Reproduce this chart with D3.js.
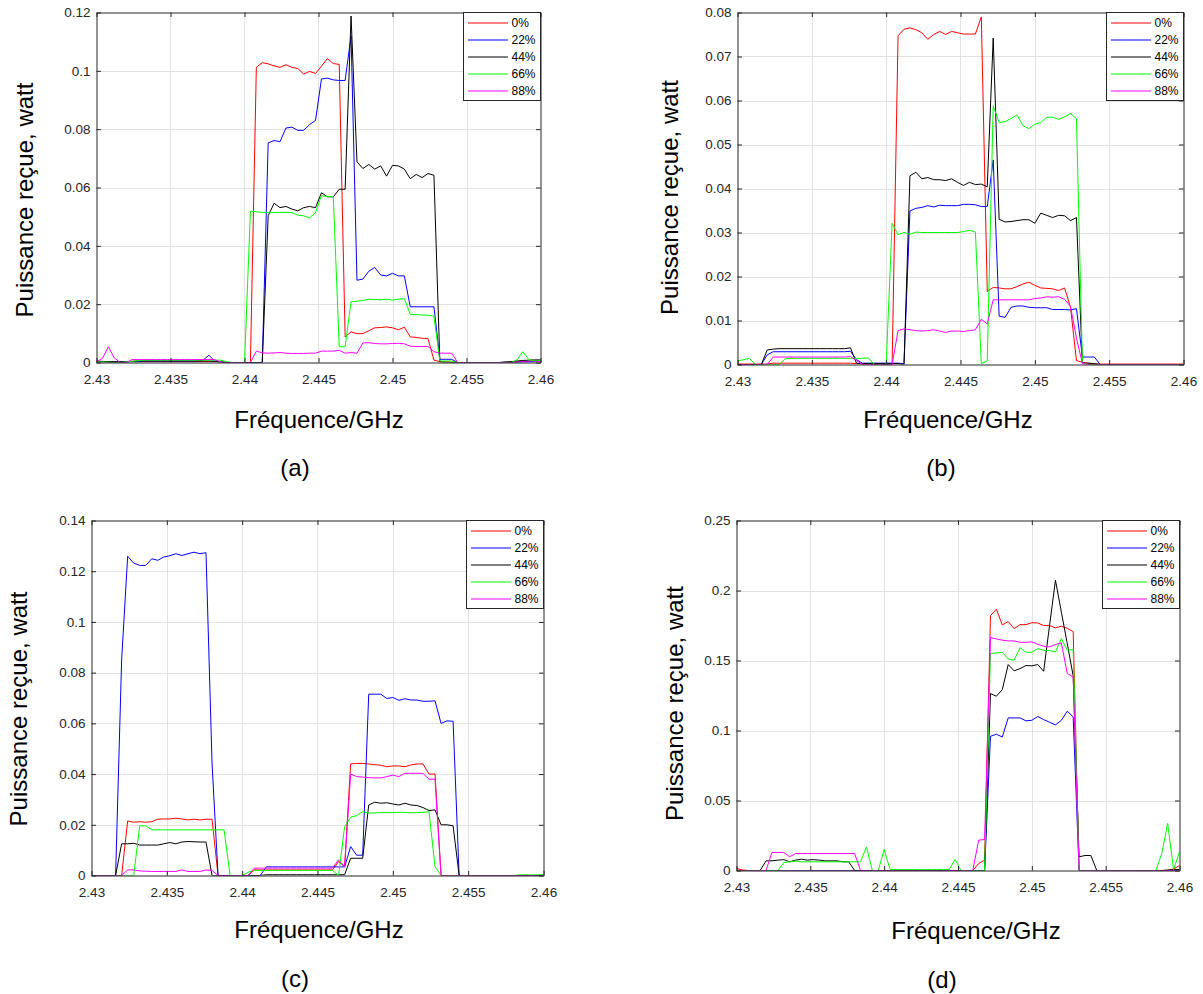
<!DOCTYPE html>
<html><head><meta charset="utf-8">
<script src="https://cdn.jsdelivr.net/npm/d3@7"></script>
<style>
body{margin:0;background:#fff;}
svg{display:block;font-family:"Liberation Sans",Arial,Helvetica,sans-serif;}
</style>
</head><body>
<svg id="c" width="1203" height="994"></svg>
<script>
// ---------- DATA ----------
const freq = [2.4300,2.4304,2.4308,2.4312,2.4316,2.4320,2.4324,2.4328,2.4332,2.4336,
2.4340,2.4344,2.4348,2.4352,2.4356,2.4360,2.4364,2.4368,2.4372,2.4376,
2.4380,2.4384,2.4388,2.4392,2.4396,2.4400,2.4404,2.4408,2.4412,2.4416,
2.4420,2.4424,2.4428,2.4432,2.4436,2.4440,2.4444,2.4448,2.4452,2.4456,
2.4460,2.4464,2.4468,2.4472,2.4476,2.4480,2.4484,2.4488,2.4492,2.4496,
2.4500,2.4504,2.4508,2.4512,2.4516,2.4520,2.4524,2.4528,2.4532,2.4536,
2.4540,2.4544,2.4548,2.4552,2.4556,2.4560,2.4564,2.4568,2.4572,2.4576,
2.4580,2.4584,2.4588,2.4592,2.4596,2.4600];

const seriesNames = ["0%","22%","44%","66%","88%"];
const seriesColors = ["#ff0000","#0000ff","#000000","#00ff00","#ff00ff"];

const xTicks = [2.43,2.435,2.44,2.445,2.45,2.455,2.46];
const xTickLabels = ["2.43","2.435","2.44","2.445","2.45","2.455","2.46"];

// panel (a)
const aRed = [0.0005,0.0004,0.0002,0,0,0.0002,0.0003,0.0003,0.0003,0.0003,
0.0003,0.0003,0.0003,0.0003,0.0003,0.0003,0.0003,0.0003,0.0003,0.0003,
0.0003,0.0002,0,0,0,0,0,0.1012,0.1028,0.1024,
0.1017,0.1012,0.1021,0.1012,0.1008,0.0989,0.0998,0.0991,0.1016,0.1042,
0.1025,0.1022,0.0088,0.0105,0.0099,0.0099,0.0109,0.0119,0.0120,0.0122,
0.0119,0.0112,0.0121,0.0088,0.0086,0.0083,0.0082,0.0008,0.0003,0.0002,
0.0001,0,0,0,0,0,0,0,0,0,
0.0001,0.0002,0.0004,0.0003,0.0005,0.0006];
const aBlue = [0.0003,0.0002,0.0002,0.0002,0.0002,0.0002,0.0002,0.0003,0.0005,0.0005,
0.0005,0.0005,0.0005,0.0005,0.0005,0.0005,0.0005,0.0005,0.0008,0.0025,
0.0004,0.0002,0,0,0,0,0,0,0,0.0753,
0.0761,0.0757,0.0804,0.0807,0.0796,0.0796,0.0816,0.0830,0.0972,0.0975,
0.0969,0.0967,0.0967,0.1120,0.0282,0.0286,0.0313,0.0326,0.0300,0.0297,
0.0306,0.0297,0.0297,0.0191,0.0191,0.0191,0.0191,0.0191,0.0011,0.0011,
0.0011,0,0,0,0,0,0,0,0,0,
0,0.0001,0.0002,0.0003,0.0004,0.0005];
const aBlack = [0.0002,0.0003,0.0003,0.0003,0.0003,0.0003,0.0004,0.0005,0.0005,0.0005,
0.0005,0.0005,0.0005,0.0005,0.0005,0.0005,0.0005,0.0005,0.0005,0.0005,
0.0004,0.0002,0,0,0,0,0,0,0,0.0503,
0.0546,0.0531,0.0535,0.0526,0.0520,0.0531,0.0535,0.0531,0.0582,0.0568,
0.0568,0.0594,0.0594,0.1188,0.0688,0.0665,0.0679,0.0663,0.0674,0.0639,
0.0676,0.0674,0.0663,0.0630,0.0645,0.0634,0.0648,0.0642,0.0002,0.0001,
0,0,0,0,0,0,0,0,0,0.0002,
0.0003,0.0005,0.0007,0.0008,0.0009,0.0009];
const aGreen = [0.0002,0.0002,0.0001,0,0,0.0002,0.0004,0.0006,0.0008,0.0008,
0.0008,0.0008,0.0008,0.0008,0.0008,0.0008,0.0008,0.0008,0.0008,0.0008,
0.0008,0.0008,0.0003,0,0,0,0.0519,0.0517,0.0514,0.0514,
0.0514,0.0514,0.0515,0.0514,0.0505,0.0503,0.0496,0.0514,0.0572,0.0569,
0.0569,0.0054,0.0054,0.0208,0.0210,0.0213,0.0217,0.0216,0.0215,0.0217,
0.0214,0.0217,0.0219,0.0165,0.0164,0.0163,0.0162,0.0159,0.0005,0.0005,
0.0005,0,0,0,0,0,0,0,0,0,
0,0.0008,0.0037,0.0011,0.0005,0.0007];
const aMagenta = [0.0002,0.0014,0.0054,0.0016,0,0,0.0010,0.0010,0.0010,0.0010,
0.0010,0.0010,0.0010,0.0010,0.0010,0.0010,0.0010,0.0010,0.0010,0.0010,
0.0010,0.0001,0,0,0,0,0,0.0039,0.0033,0.0032,
0.0033,0.0034,0.0032,0.0031,0.0031,0.0031,0.0032,0.0032,0.0039,0.0039,
0.0039,0.0042,0.0032,0.0034,0.0032,0.0067,0.0068,0.0065,0.0064,0.0064,
0.0065,0.0066,0.0064,0.0056,0.0055,0.0055,0.0055,0.0037,0.0032,0.0032,
0.0032,0,0,0,0,0,0,0,0,0,
0,0.0001,0.0002,0.0002,0.0002,0.0003];

// panel (b)
const bRed = [0.0001,0.0001,0.0001,0.0001,0.0001,0.0001,0.0003,0.0003,0.0003,0.0003,
0.0003,0.0003,0.0003,0.0003,0.0003,0.0003,0.0003,0.0003,0.0003,0.0003,
0.0002,0.0001,0.0001,0.0001,0.0001,0.0001,0,0.0747,0.0762,0.0765,
0.0761,0.0754,0.0739,0.0750,0.0757,0.0750,0.0757,0.0754,0.0751,0.0751,
0.0751,0.0790,0.0166,0.0175,0.0174,0.0172,0.0172,0.0177,0.0183,0.0187,
0.0180,0.0174,0.0173,0.0172,0.0168,0.0174,0.0130,0.0009,0.0005,0.0003,
0.0001,0.0001,0.0001,0.0001,0.0001,0.0001,0.0001,0.0001,0.0001,0.0001,
0.0001,0.0001,0.0001,0.0001,0.0001,0.0001];
const bBlue = [0,0,0,0,0,0.0022,0.0029,0.0029,0.0029,0.0029,
0.0029,0.0029,0.0029,0.0029,0.0029,0.0029,0.0029,0.0029,0.0029,0.0030,
0.0011,0.0003,0.0003,0.0003,0.0003,0.0003,0.0003,0.0003,0.0002,0.0349,
0.0355,0.0357,0.0361,0.0358,0.0362,0.0361,0.0361,0.0361,0.0364,0.0364,
0.0363,0.0359,0.0359,0.0465,0.0110,0.0107,0.0130,0.0133,0.0133,0.0130,
0.0129,0.0129,0.0129,0.0125,0.0125,0.0125,0.0124,0.0127,0.0017,0.0017,
0.0017,0,0,0,0,0,0,0,0,0,
0,0,0,0,0,0];
const bBlack = [0,0,0,0,0,0.0033,0.0035,0.0036,0.0036,0.0036,
0.0036,0.0036,0.0036,0.0036,0.0036,0.0036,0.0036,0.0036,0.0036,0.0038,
0.0003,0.0002,0.0002,0.0002,0.0002,0.0002,0.0002,0.0002,0,0.0429,
0.0437,0.0422,0.0425,0.0420,0.0420,0.0418,0.0422,0.0414,0.0407,0.0414,
0.0409,0.0410,0.0404,0.0742,0.0330,0.0324,0.0325,0.0327,0.0329,0.0329,
0.0321,0.0344,0.0339,0.0334,0.0339,0.0338,0.0327,0.0334,0.0003,0.0003,
0.0002,0,0,0,0,0,0,0,0,0,
0,0,0,0,0,0];
const bGreen = [0.0008,0.0011,0.0014,0,0,0,0,0,0.0013,0.0014,
0.0014,0.0014,0.0014,0.0014,0.0014,0.0014,0.0014,0.0014,0.0014,0.0014,
0.0014,0.0014,0.0015,0,0,0,0.0321,0.0295,0.0300,0.0296,
0.0301,0.0300,0.0300,0.0300,0.0300,0.0300,0.0300,0.0300,0.0302,0.0305,
0.0301,0.0002,0.0008,0.0588,0.0550,0.0552,0.0559,0.0567,0.0543,0.0536,
0.0546,0.0550,0.0562,0.0562,0.0557,0.0563,0.0570,0.0559,0.0003,0,
0,0,0,0,0,0,0,0,0,0,
0,0,0,0,0,0];
const bMagenta = [0,0,0,0,0,0,0.0017,0.0017,0.0017,0.0017,
0.0017,0.0017,0.0017,0.0017,0.0017,0.0017,0.0017,0.0017,0.0017,0.0018,
0.0009,0,0,0,0,0,0,0.0077,0.0081,0.0079,
0.0077,0.0076,0.0077,0.0079,0.0076,0.0073,0.0076,0.0076,0.0075,0.0077,
0.0079,0.0103,0.0092,0.0147,0.0147,0.0147,0.0147,0.0147,0.0147,0.0147,
0.0150,0.0151,0.0154,0.0153,0.0154,0.0148,0.0132,0.0060,0.0002,0,
0,0,0,0,0,0,0,0,0,0,
0,0,0,0,0,0];

// panel (c)
const cRed = [0,0,0,0,0,0,0.0215,0.0210,0.0212,0.0210,
0.0212,0.0222,0.0223,0.0223,0.0226,0.0223,0.0219,0.0222,0.0219,0.0222,
0.0222,0,0,0,0,0,0,0.0022,0.0022,0.0022,
0.0022,0.0022,0.0022,0.0022,0.0022,0.0022,0.0022,0.0022,0.0022,0.0022,
0.0022,0.0055,0.0035,0.0440,0.0442,0.0442,0.0440,0.0437,0.0435,0.0429,
0.0432,0.0432,0.0429,0.0436,0.0440,0.0440,0.0400,0.0400,0,0,
0,0,0,0,0,0,0,0,0,0,
0,0,0,0,0,0];
const cBlue = [0,0,0,0,0,0.0850,0.1259,0.1232,0.1223,0.1223,
0.1249,0.1243,0.1256,0.1261,0.1269,0.1262,0.1269,0.1275,0.1269,0.1273,
0.0443,0,0,0,0,0,0,0,0,0.0034,
0.0034,0.0034,0.0034,0.0034,0.0034,0.0034,0.0034,0.0034,0.0034,0.0034,
0.0034,0.0034,0.0034,0.0114,0.0080,0.0080,0.0715,0.0715,0.0715,0.0698,
0.0702,0.0691,0.0697,0.0692,0.0692,0.0687,0.0687,0.0689,0.0600,0.0610,
0.0608,0,0,0,0,0,0,0,0,0,
0,0,0,0,0,0];
const cBlack = [0,0,0,0,0,0.0125,0.0125,0.0127,0.0120,0.0120,
0.0120,0.0120,0.0125,0.0130,0.0125,0.0132,0.0134,0.0133,0.0132,0.0132,
0,0,0,0,0,0,0,0,0,0.0003,
0.0003,0.0003,0.0003,0.0003,0.0003,0.0003,0.0003,0.0003,0.0003,0.0003,
0.0003,0.0003,0.0003,0.0068,0.0068,0.0068,0.0278,0.0289,0.0285,0.0287,
0.0282,0.0278,0.0285,0.0278,0.0276,0.0268,0.0256,0.0259,0.0200,0.0200,
0.0196,0,0,0,0,0,0,0,0,0,
0,0,0,0,0,0];
const cGreen = [0,0,0,0,0,0,0,0,0.0196,0.0196,
0.0180,0.0180,0.0180,0.0180,0.0180,0.0180,0.0180,0.0180,0.0180,0.0180,
0.0180,0.0180,0.0180,0,0,0,0.0013,0.0020,0.0020,0.0020,
0.0020,0.0020,0.0020,0.0020,0.0020,0.0020,0.0020,0.0020,0.0020,0.0020,
0.0020,0,0.0193,0.0230,0.0236,0.0252,0.0246,0.0247,0.0248,0.0248,
0.0248,0.0249,0.0249,0.0247,0.0248,0.0249,0.0252,0.0035,0,0,
0,0,0,0,0,0,0,0,0,0,
0,0.0002,0.0003,0.0002,0.0003,0.0004];
const cMagenta = [0,0,0,0,0,0,0.0022,0.0022,0.0018,0.0017,
0.0016,0.0016,0.0016,0.0016,0.0016,0.0022,0.0016,0.0016,0.0016,0.0022,
0.0020,0,0,0,0,0,0,0.0029,0.0029,0.0029,
0.0029,0.0029,0.0029,0.0029,0.0029,0.0029,0.0029,0.0029,0.0029,0.0029,
0.0029,0.0062,0.0033,0.0400,0.0390,0.0388,0.0386,0.0385,0.0385,0.0390,
0.0396,0.0390,0.0403,0.0403,0.0403,0.0403,0.0380,0.0380,0,0,
0,0,0,0,0,0,0,0,0,0,
0,0,0,0,0,0];

// panel (d)
const dRed = [0.0014,0.0004,0,0,0,0,0,0,0,0,
0,0,0,0,0,0,0,0,0,0,
0,0,0,0,0,0,0,0,0,0,
0,0,0,0,0,0,0,0,0,0,
0,0.0050,0.0074,0.1820,0.1866,0.1754,0.1778,0.1728,0.1756,0.1756,
0.1770,0.1768,0.1750,0.1750,0.1733,0.1745,0.1730,0.1706,0,0,
0,0,0,0,0,0,0,0,0,0,
0,0,0,0.0002,0.0010,0.0036];
const dBlue = [0,0,0,0,0,0,0,0,0,0,
0,0,0,0,0,0,0,0,0,0,
0,0,0,0,0,0,0,0,0,0,
0,0,0,0,0,0,0,0,0,0,
0,0,0,0.0959,0.0973,0.0954,0.1090,0.1090,0.1090,0.1069,
0.1073,0.1100,0.1078,0.1059,0.1040,0.1073,0.1138,0.1097,0,0,
0,0,0,0,0,0,0,0,0,0,
0,0,0,0,0,0];
const dBlack = [0,0,0,0,0,0.0069,0.0069,0.0074,0.0078,0.0062,
0.0074,0.0081,0.0074,0.0078,0.0074,0.0069,0.0069,0.0069,0.0062,0.0062,
0,0,0,0,0,0,0,0,0,0,
0,0,0,0,0,0,0,0,0,0,
0,0,0,0.1264,0.1245,0.1292,0.1471,0.1426,0.1442,0.1464,
0.1462,0.1471,0.1423,0.1750,0.2073,0.1845,0.1620,0.1390,0.0098,0.0107,
0.0107,0,0,0,0,0,0,0,0,0,
0,0,0,0.0003,0.0006,0.0007];
const dGreen = [0,0,0,0,0,0,0,0,0.0057,0.0062,
0.0067,0.0062,0.0062,0.0062,0.0062,0.0062,0.0062,0.0062,0.0062,0.0062,
0.0062,0.0062,0.0169,0,0,0.0150,0.0007,0.0007,0.0007,0.0007,
0.0007,0.0007,0.0007,0.0007,0.0007,0.0007,0.0007,0.0079,0,0,
0,0,0,0.1550,0.1554,0.1559,0.1511,0.1502,0.1592,0.1559,
0.1559,0.1585,0.1573,0.1571,0.1561,0.1656,0.1573,0.1578,0,0,
0,0,0,0,0,0,0,0,0,0,
0,0,0.0121,0.0336,0.0007,0.0133];
const dMagenta = [0,0,0,0,0,0,0.0129,0.0129,0.0129,0.0098,
0.0121,0.0121,0.0121,0.0121,0.0121,0.0121,0.0121,0.0121,0.0121,0.0121,
0.0121,0,0,0,0,0,0,0,0,0,
0,0,0,0,0,0,0,0,0,0,
0,0.0217,0.0221,0.1664,0.1654,0.1645,0.1640,0.1640,0.1630,0.1630,
0.1633,0.1616,0.1602,0.1597,0.1614,0.1626,0.1407,0.1383,0,0,
0,0,0,0,0,0,0,0,0,0,
0,0,0,0,0,0];

const aYTicks = [0,0.02,0.04,0.06,0.08,0.1,0.12];
const aYLabels = ["0","0.02","0.04","0.06","0.08","0.1","0.12"];
const bYTicks = [0,0.01,0.02,0.03,0.04,0.05,0.06,0.07,0.08];
const bYLabels = ["0","0.01","0.02","0.03","0.04","0.05","0.06","0.07","0.08"];
const cYTicks = [0,0.02,0.04,0.06,0.08,0.1,0.12,0.14];
const cYLabels = ["0","0.02","0.04","0.06","0.08","0.1","0.12","0.14"];
const dYTicks = [0,0.05,0.1,0.15,0.2,0.25];
const dYLabels = ["0","0.05","0.1","0.15","0.2","0.25"];

const xTitle = "Fréquence/GHz";
const yTitle = "Puissance reçue, watt";
const captions = ["(a)","(b)","(c)","(d)"];

// ---------- LAYOUT ----------
const panels = [
  {series:[aRed,aBlue,aBlack,aGreen,aMagenta], yTicks:aYTicks, yLabels:aYLabels, cap:captions[0],
   x0:96.5, x1:540.5, y0:12.5, y1:362.5, yl:[33,200], xl:[319,428], cl:[295,476]},
  {series:[bRed,bBlue,bBlack,bGreen,bMagenta], yTicks:bYTicks, yLabels:bYLabels, cap:captions[1],
   x0:737.5, x1:1183.5, y0:12.5, y1:364.5, yl:[678,197.5], xl:[948,428], cl:[941,476]},
  {series:[cRed,cBlue,cBlack,cGreen,cMagenta], yTicks:cYTicks, yLabels:cYLabels, cap:captions[2],
   x0:91.5, x1:543.5, y0:520.5, y1:875.5, yl:[27,709], xl:[319,938], cl:[295,987]},
  {series:[dRed,dBlue,dBlack,dGreen,dMagenta], yTicks:dYTicks, yLabels:dYLabels, cap:captions[3],
   x0:736.5, x1:1179.5, y0:520.5, y1:870.5, yl:[683,703.5], xl:[976,939], cl:[942,988]}
];

panels.forEach(p => p.series.forEach((s,k) => {
  if (s.length !== freq.length) throw new Error("bad length " + p.cap + " series " + k + ": " + s.length);
}));

const svg = d3.select("#c");
const axisColor = "#262626";
const gridColor = "#e2e2e2";
const tickLen = 4.5;

panels.forEach((p, pi) => {
  const g = svg.append("g");
  const x = d3.scaleLinear().domain([xTicks[0], xTicks[xTicks.length-1]]).range([p.x0, p.x1]);
  const y = d3.scaleLinear().domain([0, p.yTicks[p.yTicks.length-1]]).range([p.y1, p.y0]);

  // grid
  g.append("g").selectAll("line").data(xTicks.slice(1,-1)).join("line")
    .attr("x1", d => Math.round(x(d))+0.5).attr("x2", d => Math.round(x(d))+0.5)
    .attr("y1", p.y0).attr("y2", p.y1).attr("stroke", gridColor).attr("stroke-width", 1);
  g.append("g").selectAll("line").data(p.yTicks.slice(1,-1)).join("line")
    .attr("y1", d => Math.round(y(d))+0.5).attr("y2", d => Math.round(y(d))+0.5)
    .attr("x1", p.x0).attr("x2", p.x1).attr("stroke", gridColor).attr("stroke-width", 1);

  // clip
  const cid = "clip" + pi;
  svg.append("clipPath").attr("id", cid).append("rect")
    .attr("x", p.x0).attr("y", p.y0).attr("width", p.x1 - p.x0).attr("height", p.y1 - p.y0);

  const line = d3.line().x((d,i) => x(freq[i])).y(d => y(d));
  g.append("g").attr("clip-path", `url(#${cid})`).selectAll("path").data(p.series).join("path")
    .attr("d", d => line(d)).attr("fill", "none")
    .attr("stroke", (d,k) => seriesColors[k]).attr("stroke-width", 1)
    .attr("stroke-linejoin", "round");

  // axes
  const fmtX = (d,i) => xTickLabels[i];
  const fmtY = (d,i) => p.yLabels[i];
  const ax = [
    [d3.axisBottom(x).tickValues(xTicks).tickFormat(fmtX).tickPadding(11.5), `translate(0,${p.y1})`],
    [d3.axisTop(x).tickValues(xTicks).tickFormat(""), `translate(0,${p.y0})`],
    [d3.axisLeft(y).tickValues(p.yTicks).tickFormat(fmtY).tickPadding(6), `translate(${p.x0},0)`],
    [d3.axisRight(y).tickValues(p.yTicks).tickFormat(""), `translate(${p.x1},0)`]
  ];
  ax.forEach(([a, tr]) => {
    a.tickSizeInner(-tickLen).tickSizeOuter(0);
    const ag = g.append("g").attr("transform", tr).call(a);
    ag.select(".domain").attr("stroke", axisColor);
    ag.selectAll(".tick line").attr("stroke", axisColor);
    ag.selectAll("text").attr("fill", axisColor).style("font-size", "13.5px")
      .style("font-family", '"Liberation Sans",Arial,sans-serif');
  });

  // titles
  g.append("text").attr("transform", `translate(${p.yl[0]},${p.yl[1]}) rotate(-90)`)
    .attr("text-anchor", "middle").style("font-size", "24px").attr("fill", "#000").text(yTitle);
  g.append("text").attr("x", p.xl[0]).attr("y", p.xl[1])
    .attr("text-anchor", "middle").style("font-size", "24px").attr("fill", "#000").text(xTitle);
  g.append("text").attr("x", p.cl[0]).attr("y", p.cl[1])
    .attr("text-anchor", "middle").style("font-size", "24px").attr("fill", "#000").text(p.cap);

  // legend
  const lw = 77, lh = 88;
  const lx = p.x1 - lw, ly = p.y0;
  const lg = g.append("g");
  lg.append("rect").attr("x", lx).attr("y", ly).attr("width", lw).attr("height", lh)
    .attr("fill", "#fff").attr("stroke", axisColor).attr("stroke-width", 1);
  seriesNames.forEach((nm, k) => {
    const cy = ly + 10.5 + 17 * k;
    lg.append("line").attr("x1", lx + 4.5).attr("x2", lx + 44.5).attr("y1", cy).attr("y2", cy)
      .attr("stroke", seriesColors[k]).attr("stroke-width", 1.2);
    lg.append("text").attr("x", lx + 48).attr("y", cy + 4.3).style("font-size", "12px")
      .attr("fill", "#000").text(nm);
  });
});
</script>
</body></html>
